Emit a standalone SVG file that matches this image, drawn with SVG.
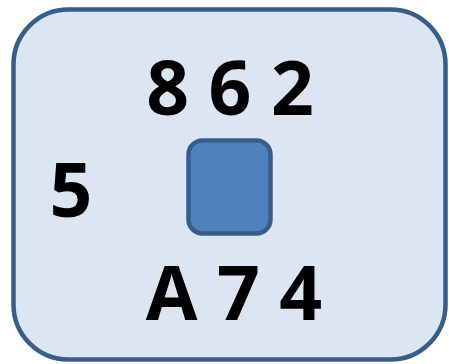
<svg xmlns="http://www.w3.org/2000/svg" width="449" height="364" viewBox="0 0 449 364">
<style>
.lbl{font-family:"Open Sans","Liberation Sans",sans-serif;font-weight:700;font-size:75px;fill:#000;text-anchor:middle}
</style>
<rect width="449" height="364" fill="#fff"/>
<g id="outer">
<rect x="13.5" y="9.5" width="432" height="350" rx="55" ry="55" fill="#dce6f2" stroke="#385d8a" stroke-width="4.5"/>
</g>
<g id="top"><text class="lbl" x="230" y="115">8 6 2</text></g>
<g id="left"><text class="lbl" x="71" y="217">5</text></g>
<g id="bottom"><text class="lbl" x="234" y="320">A 7 4</text></g>
<g id="center">
<rect x="188.5" y="140.5" width="82" height="93" rx="14" ry="14" fill="#4f81bd" stroke="#385d8a" stroke-width="4.5"/>
</g>
<g id="connectors"></g>
</svg>
